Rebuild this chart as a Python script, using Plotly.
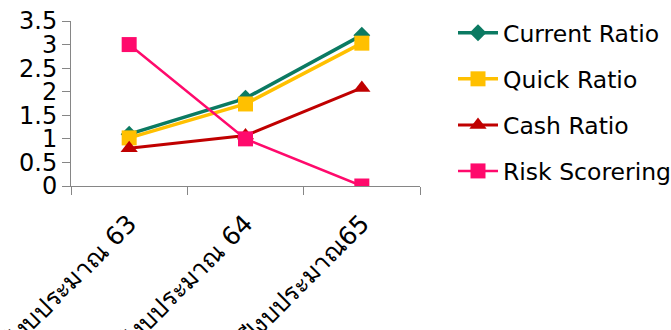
import plotly.graph_objects as go

categories = ["ปีงบประมาณ 63", "ปีงบประมาณ 64", "ปีงบประมาณ65"]
current_ratio = [1.1, 1.86, 3.2]
quick_ratio = [1.02, 1.74, 3.03]
cash_ratio = [0.8, 1.07, 2.08]
risk_scoring = [3.0, 1.0, 0.0]
y_ticks = [0, 0.5, 1, 1.5, 2, 2.5, 3, 3.5]
y_tick_text = ["0", "0.5", "1", "1.5", "2", "2.5", "3", "3.5"]

FONT = "DejaVu Sans, Noto Sans, sans-serif"

series = [
    ("Current Ratio", current_ratio, "#0B7A62", "diamond", 13, 3.5),
    ("Quick Ratio", quick_ratio, "#FFC000", "square", 15, 3.5),
    ("Cash Ratio", cash_ratio, "#C00000", "triangle-up", 15, 3),
    ("Risk Scorering", risk_scoring, "#FF0A6C", "square", 15, 2.5),
]

fig = go.Figure()
for i, (name, vals, color, sym, msize, lw) in enumerate(series):
    fig.add_trace(go.Scatter(
        x=categories, y=vals, name=name, mode="lines+markers",
        line=dict(color=color, width=lw),
        marker=dict(symbol=sym, size=msize, color=color),
        legendgroup=f"g{i}",
    ))

fig.update_layout(
    width=671, height=330,
    margin=dict(l=71, r=251, t=21, b=144, autoexpand=False),
    paper_bgcolor="white", plot_bgcolor="white",
    font=dict(family=FONT, size=24, color="black"),
    showlegend=True,
    legend=dict(xref="container", yref="container",
                x=453 / 671, y=1 - 11 / 330, xanchor="left", yanchor="top",
                font=dict(size=23.5), tracegroupgap=12.5, itemwidth=40,
                maxheight=330, bgcolor="rgba(0,0,0,0)"),
    xaxis=dict(range=[-0.5, 2.5], showgrid=False, showline=True,
               linecolor="#868686", linewidth=1,
               ticks="outside", tickcolor="#868686", ticklen=8,
               tickson="boundaries", tickangle=-45, ticklabelstandoff=12,
               tickfont=dict(size=25)),
    yaxis=dict(range=[0, 3.5], showgrid=False, showline=True, linecolor="#868686",
               linewidth=1, ticks="outside", tickcolor="#868686", ticklen=8,
               tickvals=y_ticks, ticktext=y_tick_text, zeroline=False,
               tickfont=dict(size=24)),
)

fig.write_html("out.html", config={"displayModeBar": False},
               post_script="document.body.style.margin='0';")
